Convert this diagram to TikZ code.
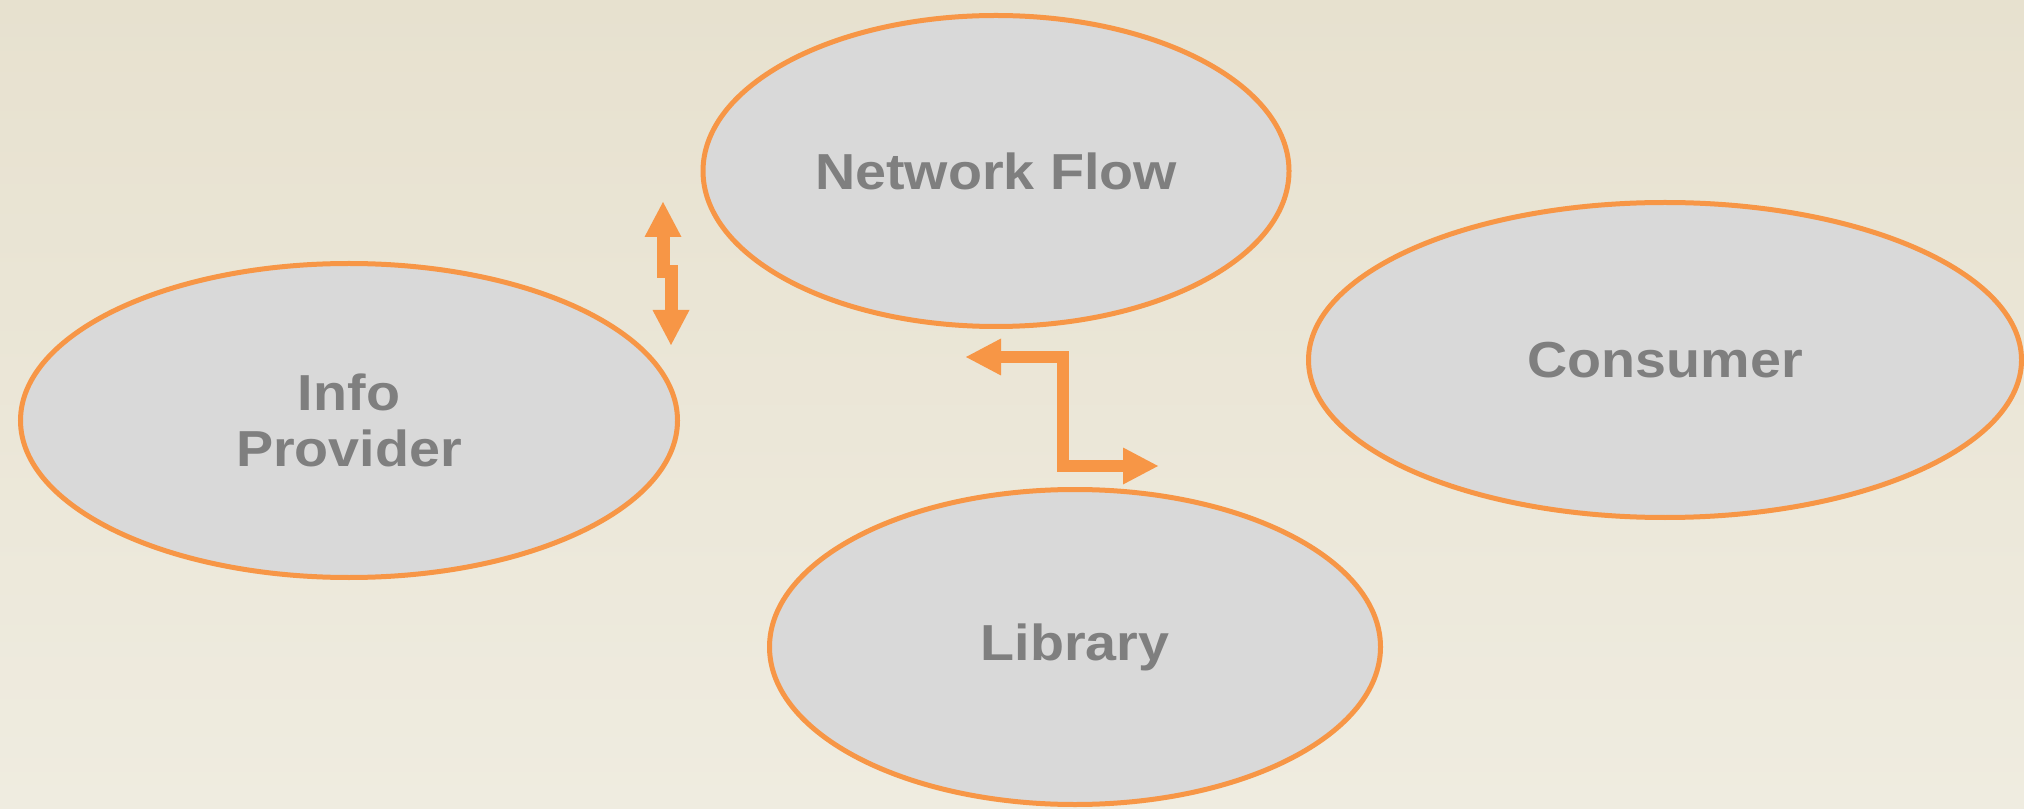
\documentclass[tikz,border=0pt]{standalone}
\usepackage{xcolor}
\usepackage{fontspec}
\usepackage{tikz}
\usetikzlibrary{arrows.meta}
\usetikzlibrary{shapes.geometric}
\newfontfamily\labelfont[FakeStretch=1.1]{Liberation Sans}
\definecolor{paper}{HTML}{E7E1CF}
\definecolor{paperlow}{HTML}{EFECE0}
\definecolor{accent}{HTML}{F79646}
\definecolor{bubble}{HTML}{D9D9D9}
\definecolor{ink}{HTML}{7F7F7F}
\tikzstyle{role} = [ellipse, draw = accent, fill = bubble, line width = 0.05cm, inner sep = 0, align = center, text = ink, font = \labelfont\bfseries\fontsize{14.4}{15.9}\selectfont]
\tikzstyle{flow} = [draw = accent, line width = 0.13cm, {Triangle[length = 0.35cm, width = 0.37cm, line width = 0pt]}-{Triangle[length = 0.35cm, width = 0.37cm, line width = 0pt]}]

\begin{document}
\begin{tikzpicture}
\useasboundingbox (0, 0) rectangle (20.24, 8.08);
\shade [top color = paper, bottom color = paperlow] (0, 0) rectangle (20.24, 8.08);
\node [role, minimum width = 5.86cm, minimum height = 3.11cm] (N) at (9.96, 6.37) {Network Flow};
\node [role, minimum width = 6.57cm, minimum height = 3.14cm] (I) at (3.49, 3.875) {Info\\Provider};
\node [role, minimum width = 7.13cm, minimum height = 3.15cm] (C) at (16.65, 4.48) {Consumer};
\node [role, minimum width = 6.11cm, minimum height = 3.15cm] (L) at (10.75, 1.61) {Library};
\coordinate (vtop) at (6.63, 6.06);
\coordinate (vmid) at (6.67, 5.36);
\coordinate (vbot) at (6.71, 4.63);
\coordinate (hleft) at (9.66, 4.51);
\coordinate (hmid) at (10.625, 3.97);
\coordinate (hright) at (11.58, 3.42);
\draw [flow] (vtop) |- (vmid) -| (vbot);
\draw [flow, line width = 0.12cm] (hleft) -| (hmid) |- (hright);
%\draw [flow] (N) to (L);
\end{tikzpicture}
\end{document}
